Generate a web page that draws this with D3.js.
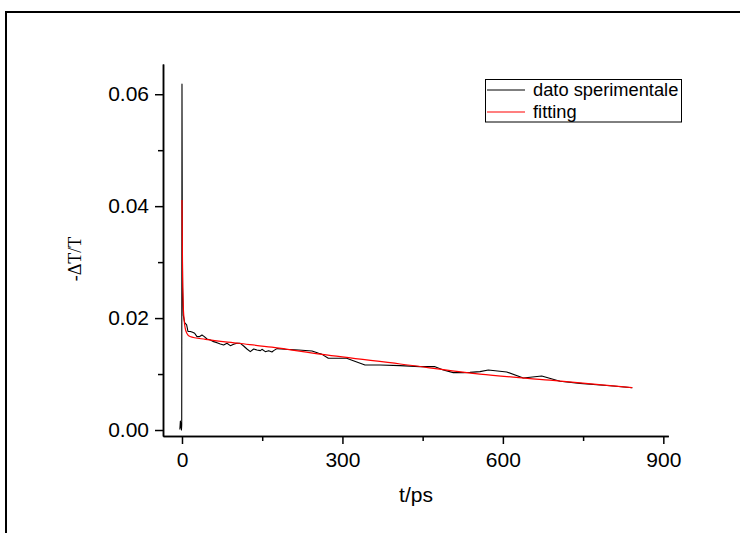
<!DOCTYPE html>
<html>
<head>
<meta charset="utf-8">
<script src="https://cdn.jsdelivr.net/npm/d3@7"></script>
<style>
  html, body { margin: 0; padding: 0; background: #fff; }
  svg { display: block; }
  .tick text { font-family: Arial, "Liberation Sans", Helvetica, sans-serif; }
</style>
</head>
<body>
<svg id="chart" width="740" height="533"></svg>
<script>
// Measured pump-probe transmission change: time (ps) and -ΔT/T
const dataTime = [
  -4, -3, -2, -1.5, -1, -0.5, 0, 0.6, 1.2, 2.5, 5, 8.7, 11.2, 15.6, 19.9, 23.7, 28.0, 32.4,
  37.4, 41.8, 46.7, 53.0, 59.2, 65.4, 71.7, 77.9, 84.1, 90.4, 96.6, 102.8, 109.1, 115.3,
  121.5, 127.8, 134.0, 140.2, 146.5, 149.6, 155.8, 162.1, 168.3, 171.4, 177.6, 193.2,
  218.2, 243.1, 255.6, 261.8, 273.6, 307.9, 320.4, 342.2, 370.2, 407.6, 445.0, 473.1,
  488.6, 507.3, 526.0, 538.5, 557.2, 572.8, 607.1, 638.2, 672.6, 706.8, 744.2, 781.6,
  806.5, 842.0
];
const dataSignal = [
  0.0001, 0.0016, 0.0004, 0.0013, 0.0000, 0.0009, 0.0618, 0.0340, 0.0255, 0.0205, 0.0192,
  0.0188, 0.0176, 0.0176, 0.01745, 0.01728, 0.01668, 0.01668, 0.01698, 0.01668, 0.01626,
  0.01609, 0.01579, 0.01561, 0.01537, 0.01519, 0.01549, 0.01507, 0.01531, 0.01549,
  0.01549, 0.01501, 0.01448, 0.01400, 0.01448, 0.01430, 0.01418, 0.01442, 0.01400,
  0.01418, 0.01394, 0.01418, 0.01454, 0.01442, 0.01430, 0.01412, 0.01370, 0.01352,
  0.01281, 0.01281, 0.01239, 0.01162, 0.01162, 0.01150, 0.01132, 0.01132, 0.01072,
  0.01025, 0.01025, 0.01030, 0.01043, 0.01072, 0.01037, 0.00929, 0.00965, 0.00870,
  0.00834, 0.00804, 0.00786, 0.00756
];

// Fitted decay curve
const fitTime = [0, 0.5, 1, 2, 4, 6, 9, 15, 44, 106, 168, 262, 408, 557, 688, 842];
const fitSignal = [
  0.0411, 0.0350, 0.0290, 0.0232, 0.0197, 0.0182, 0.0173, 0.0167, 0.0162, 0.0155,
  0.0148, 0.0135, 0.0118, 0.0100, 0.0089, 0.00756
];

const xMajorTicks = [0, 300, 600, 900];
const xMinorTicks = [150, 450, 750];
const yMajorTicks = [0.00, 0.02, 0.04, 0.06];
const yMinorTicks = [0.01, 0.03, 0.05];

const legendLabels = ["dato sperimentale", "fitting"];
const seriesColors = ["#000000", "#ff0000"];

const svg = d3.select("#chart");

// Page frame
svg.append("rect")
  .attr("x", 6).attr("y", 12)
  .attr("width", 800).attr("height", 600)
  .attr("fill", "none").attr("stroke", "#000").attr("stroke-width", 2);

const x = d3.scaleLinear().domain([-35.5, 909.3]).range([163, 668.3]);
const y = d3.scaleLinear().domain([-0.00107, 0.0654]).range([436, 64]);

const axisStroke = 1.5;
const sans = "Arial, 'Liberation Sans', Helvetica, sans-serif";

// Minor ticks
const xMinor = svg.append("g")
  .attr("transform", "translate(0,436)")
  .call(d3.axisBottom(x).tickValues(xMinorTicks).tickSize(5).tickSizeOuter(0).tickFormat(""));
const yMinor = svg.append("g")
  .attr("transform", "translate(163,0)")
  .call(d3.axisLeft(y).tickValues(yMinorTicks).tickSize(5).tickSizeOuter(0).tickFormat(""));

// Major ticks and labels
const xAxis = svg.append("g")
  .attr("transform", "translate(0,436)")
  .call(d3.axisBottom(x).tickValues(xMajorTicks).tickSize(8).tickSizeOuter(0)
    .tickPadding(8).tickFormat(d3.format("d")));
const yAxis = svg.append("g")
  .attr("transform", "translate(163,0)")
  .call(d3.axisLeft(y).tickValues(yMajorTicks).tickSize(8).tickSizeOuter(0)
    .tickPadding(6).tickFormat(d3.format(".2f")));

[xMinor, yMinor, xAxis, yAxis].forEach(g => {
  g.selectAll("path.domain").attr("stroke", "#000").attr("stroke-width", axisStroke);
  g.selectAll(".tick line").attr("stroke", "#000").attr("stroke-width", axisStroke);
  g.selectAll(".tick text")
    .attr("fill", "#000")
    .style("font-family", sans)
    .style("font-size", "21px");
});

// Axis titles
svg.append("text")
  .attr("x", 416).attr("y", 502)
  .attr("text-anchor", "middle")
  .style("font-family", sans).style("font-size", "21px")
  .text("t/ps");

svg.append("text")
  .attr("transform", "translate(81,259) rotate(-90)")
  .attr("text-anchor", "middle")
  .style("font-family", "'Liberation Serif', 'Times New Roman', serif")
  .style("font-size", "18px")
  .text("-ΔT/T");

// Curves
const measured = dataTime.map((t, i) => [t, dataSignal[i]]);
const fitted = fitTime.map((t, i) => [t, fitSignal[i]]);
const line = d3.line().x(d => x(d[0])).y(d => y(d[1]));

svg.append("path")
  .datum(measured)
  .attr("d", line)
  .attr("fill", "none")
  .attr("stroke", seriesColors[0])
  .attr("stroke-width", 1.1)
  .attr("stroke-linejoin", "round");

svg.append("path")
  .datum(fitted)
  .attr("d", line.curve(d3.curveMonotoneX))
  .attr("fill", "none")
  .attr("stroke", seriesColors[1])
  .attr("stroke-width", 1.2);

// Legend
const legend = svg.append("g");
legend.append("rect")
  .attr("x", 485.5).attr("y", 79.5)
  .attr("width", 196).attr("height", 42.5)
  .attr("fill", "#fff").attr("stroke", "#000").attr("stroke-width", 1);

legendLabels.forEach((label, i) => {
  const ly = 90 + i * 22;
  legend.append("line")
    .attr("x1", 487).attr("x2", 525)
    .attr("y1", ly).attr("y2", ly)
    .attr("stroke", seriesColors[i]).attr("stroke-width", 1.2);
  legend.append("text")
    .attr("x", 533).attr("y", ly + 6)
    .style("font-family", sans).style("font-size", "18.3px")
    .text(label);
});
</script>
</body>
</html>
